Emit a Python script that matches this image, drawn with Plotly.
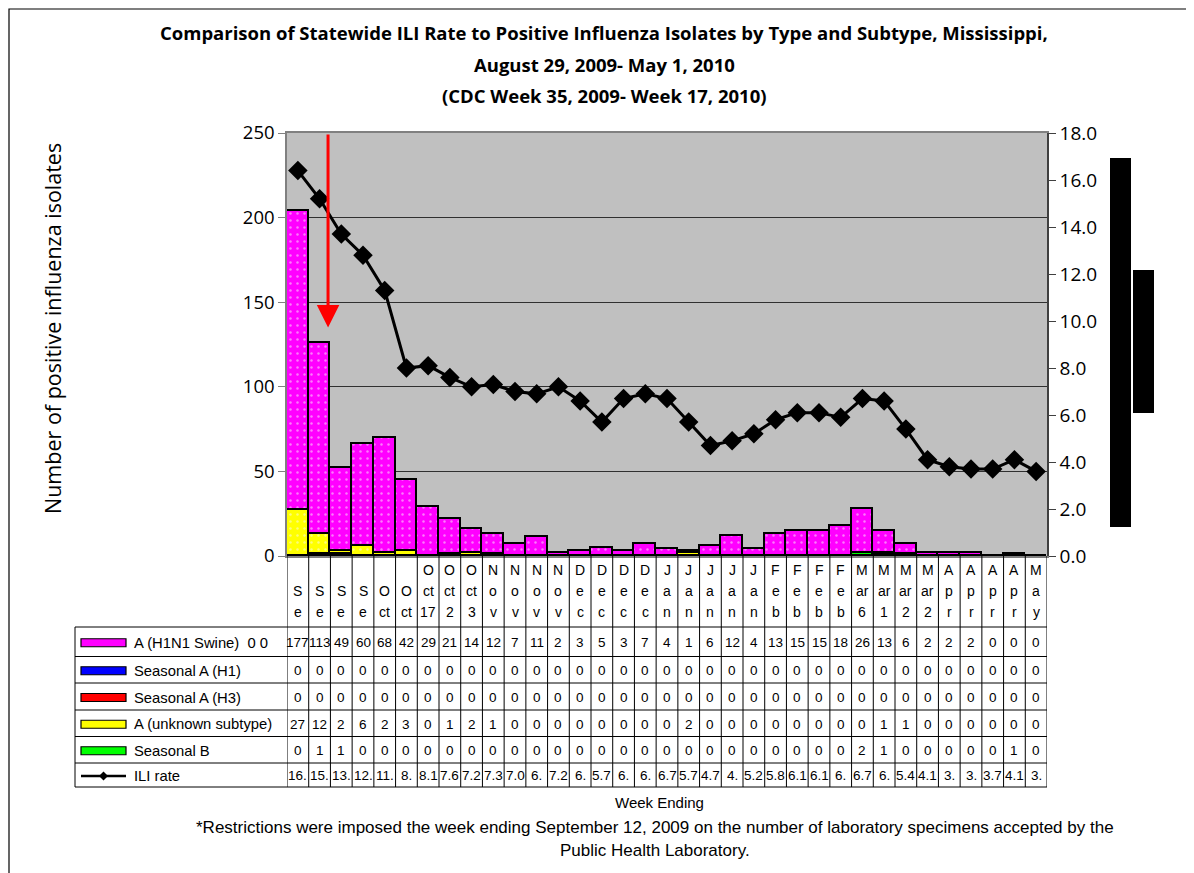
import plotly.graph_objects as go

# week ending labels as they wrap in the data table cells
weeks = ["S|e", "S|e", "S|e", "S|e", "O|ct", "O|ct", "O|ct|17", "O|ct|2", "O|ct|3",
         "N|o|v", "N|o|v", "N|o|v", "N|o|v", "D|e|c", "D|e|c", "D|e|c", "D|e|c",
         "J|a|n", "J|a|n", "J|a|n", "J|a|n", "J|a|n", "F|e|b", "F|e|b", "F|e|b", "F|e|b",
         "M|ar|6", "M|ar|1", "M|ar|2", "M|ar|2", "A|p|r", "A|p|r", "A|p|r", "A|p|r", "M|a|y"]

h1n1 = [177, 113, 49, 60, 68, 42, 29, 21, 14, 12, 7, 11, 2, 3, 5, 3, 7,
        4, 1, 6, 12, 4, 13, 15, 15, 18, 26, 13, 6, 2, 2, 2, 0, 0, 0]
seas_h1 = [0, 0, 0, 0, 0, 0, 0, 0, 0, 0, 0, 0, 0, 0, 0, 0, 0,
           0, 0, 0, 0, 0, 0, 0, 0, 0, 0, 0, 0, 0, 0, 0, 0, 0, 0]
seas_h3 = [0, 0, 0, 0, 0, 0, 0, 0, 0, 0, 0, 0, 0, 0, 0, 0, 0,
           0, 0, 0, 0, 0, 0, 0, 0, 0, 0, 0, 0, 0, 0, 0, 0, 0, 0]
unknown = [27, 12, 2, 6, 2, 3, 0, 1, 2, 1, 0, 0, 0, 0, 0, 0, 0,
           0, 2, 0, 0, 0, 0, 0, 0, 0, 0, 1, 1, 0, 0, 0, 0, 0, 0]
seas_b = [0, 1, 1, 0, 0, 0, 0, 0, 0, 0, 0, 0, 0, 0, 0, 0, 0,
          0, 0, 0, 0, 0, 0, 0, 0, 0, 2, 1, 0, 0, 0, 0, 0, 1, 0]
ili = [16.4, 15.2, 13.7, 12.8, 11.3, 8.0, 8.1, 7.6, 7.2, 7.3, 7.0, 6.9, 7.2, 6.6, 5.7, 6.7, 6.9,
       6.7, 5.7, 4.7, 4.9, 5.2, 5.8, 6.1, 6.1, 5.9, 6.7, 6.6, 5.4, 4.1, 3.8, 3.7, 3.7, 4.1, 3.6]
# ILI cells are clipped in the original table
ili_text = ["16.", "15.", "13.", "12.", "11.", "8.", "8.1", "7.6", "7.2", "7.3", "7.0", "6.",
            "7.2", "6.", "5.7", "6.", "6.", "6.7", "5.7", "4.7", "4.", "5.2", "5.8", "6.1",
            "6.1", "6.", "6.7", "6.", "5.4", "4.1", "3.", "3.", "3.7", "4.1", "3."]

MAG, BLUE, RED, YEL, GRN = "#FF00FF", "#0000FF", "#FF0000", "#FFFF00", "#00FF00"
CAL = "'Open Sans', Lato, sans-serif"
ARI = "Arial, 'Liberation Sans', sans-serif"

# page body has an 8px margin, so the figure is 8px smaller and shifted
W, H = 1186, 865
L0, T0 = 287, 133          # plot origin in screen pixels
PW, PH = 760, 423
L, T = L0 - 8, T0 - 8
R, B = W - L - PW, H - T - PH


def fx(px):
    return (px - L0) / PW


def fy(py):
    return (T0 + PH - py) / PH


x = list(range(len(weeks)))
fig = go.Figure()

series = [("Seasonal B", seas_b, GRN), ("A (unknown subtype)", unknown, YEL),
          ("Seasonal A (H3)", seas_h3, RED), ("Seasonal A (H1)", seas_h1, BLUE),
          ("A (H1N1 Swine)", h1n1, MAG)]
for name, vals, c in series:
    fig.add_trace(go.Bar(
        x=x, y=vals, name=name,
        marker=dict(color=c, line=dict(color="black", width=1.8),
                    pattern=dict(shape=".", fgcolor="#F8F8F8", bgcolor=c,
                                 size=7, solidity=0.1)),
    ))

fig.add_trace(go.Scatter(
    x=x, y=ili, name="ILI rate", yaxis="y2", mode="lines+markers",
    line=dict(color="black", width=3),
    marker=dict(symbol="diamond", size=15, color="black"),
))

fig.update_layout(
    width=W, height=H, barmode="stack", bargap=0, showlegend=False,
    margin=dict(l=L, r=R, t=T, b=B),
    paper_bgcolor="white", plot_bgcolor="#C0C0C0",
    font=dict(family=CAL, color="black"),
    xaxis=dict(range=[-0.5, 34.5], showticklabels=False, ticks="",
               showgrid=False, zeroline=False, showline=True,
               linecolor="#808080", linewidth=1.5, mirror=True),
    yaxis=dict(range=[0, 250], dtick=50, ticks="outside", ticklen=7,
               tickcolor="#808080", tickfont=dict(family=CAL, size=18.5),
               showgrid=True, gridcolor="#303030", gridwidth=1.2,
               zeroline=False, showline=True, linecolor="#808080", linewidth=1.5),
    yaxis2=dict(range=[0, 18], dtick=2, tickformat=".1f", overlaying="y",
                side="right", ticks="outside", ticklen=7, tickcolor="#404040",
                tickfont=dict(family=CAL, size=19), showgrid=False,
                zeroline=False, showline=True, linecolor="#404040", linewidth=1.5),
)

ann = []
shapes = []


def note(text, px, py, size, family=ARI, **kw):
    d = dict(text=text, xref="paper", yref="paper", x=fx(px), y=fy(py),
             xanchor="center", yanchor="middle", showarrow=False,
             font=dict(family=family, size=size))
    d.update(kw)
    ann.append(d)


# title
note("<b>Comparison of Statewide ILI Rate to Positive Influenza Isolates by Type and Subtype, Mississippi,</b>",
     604, 32, 18.5, CAL)
note("<b>August 29, 2009- May 1, 2010</b>", 604, 64, 18.5, CAL)
note("<b>(CDC Week 35, 2009- Week 17, 2010)</b>", 604, 95, 18.5, CAL)

note("Number of positive influenza isolates", 52, 329, 21.5, CAL, textangle=-90)

# red arrow marking the restriction week
ann.append(dict(text="", x=1.39, y=135, ax=1.39, ay=250, xref="x", yref="y",
                axref="x", ayref="y", showarrow=True, arrowhead=2, arrowsize=1.5,
                arrowwidth=3, arrowcolor=RED, standoff=0, startstandoff=0))

# data table
row_edges = [627, 656.5, 683, 710, 736.5, 763, 787]
rows = [("A (H1N1 Swine)  0 0", [str(v) for v in h1n1], MAG),
        ("Seasonal A (H1)", [str(v) for v in seas_h1], BLUE),
        ("Seasonal A (H3)", [str(v) for v in seas_h3], RED),
        ("A (unknown subtype)", [str(v) for v in unknown], YEL),
        ("Seasonal B", [str(v) for v in seas_b], GRN),
        ("ILI rate", ili_text, None)]

for i, lab in enumerate(weeks):
    parts = lab.split("|")
    for j, p in enumerate(reversed(parts)):
        ann.append(dict(text=p, xref="x", yref="paper", x=i, y=fy(612 - 21 * j),
                        xanchor="center", yanchor="middle", showarrow=False,
                        font=dict(family=ARI, size=14)))

for r, (name, texts, c) in enumerate(rows):
    yc = (row_edges[r] + row_edges[r + 1]) / 2 + 1
    for i, t in enumerate(texts):
        ann.append(dict(text=t, xref="x", yref="paper", x=i, y=fy(yc),
                        xanchor="center", yanchor="middle", showarrow=False,
                        font=dict(family=ARI, size=13.5)))
    note(name, 132, yc, 14.8, xanchor="left")
    if c:
        shapes.append(dict(type="rect", xref="paper", yref="paper",
                           x0=fx(81), x1=fx(126), y0=fy(yc - 4), y1=fy(yc + 4),
                           fillcolor=c, line=dict(color="black", width=1.2)))
    else:
        shapes.append(dict(type="line", xref="paper", yref="paper",
                           x0=fx(81), x1=fx(126), y0=fy(yc), y1=fy(yc),
                           line=dict(color="black", width=2.5)))
        cx, cy = fx(103.5), fy(yc)
        dx, dy = 4.5 / PW, 4.5 / PH
        shapes.append(dict(type="path", xref="paper", yref="paper",
                           path=f"M {cx - dx} {cy} L {cx} {cy + dy} L {cx + dx} {cy} L {cx} {cy - dy} Z",
                           fillcolor="black", line=dict(color="black", width=0)))

for i in range(len(weeks) + 1):
    shapes.append(dict(type="line", xref="x", yref="paper", x0=i - 0.5, x1=i - 0.5,
                       y0=fy(787), y1=fy(556), line=dict(color="black", width=1)))
for e in row_edges:
    shapes.append(dict(type="line", xref="paper", yref="paper", x0=fx(75), x1=fx(1047),
                       y0=fy(e), y1=fy(e), line=dict(color="black", width=1)))
shapes.append(dict(type="line", xref="paper", yref="paper", x0=fx(75), x1=fx(75),
                   y0=fy(787), y1=fy(627), line=dict(color="black", width=1)))

note("Week Ending", 659, 803, 15)
note("*Restrictions were imposed the week ending September 12, 2009 on the number of laboratory specimens accepted by the",
     655, 827, 17)
note("Public Health Laboratory.", 655, 850, 17)

# black blocks to the right of the plot
shapes.append(dict(type="rect", xref="paper", yref="paper", x0=fx(1110), x1=fx(1131),
                   y0=fy(527), y1=fy(158), fillcolor="black", line=dict(width=0)))
shapes.append(dict(type="rect", xref="paper", yref="paper", x0=fx(1133), x1=fx(1154),
                   y0=fy(413), y1=fy(270), fillcolor="black", line=dict(width=0)))

# outer chart border
shapes.append(dict(type="rect", xref="paper", yref="paper", x0=fx(9), x1=fx(1187),
                   y0=fy(890), y1=fy(9), line=dict(color="black", width=1.2)))

fig.update_layout(annotations=ann, shapes=shapes)
fig.write_html("out.html")
